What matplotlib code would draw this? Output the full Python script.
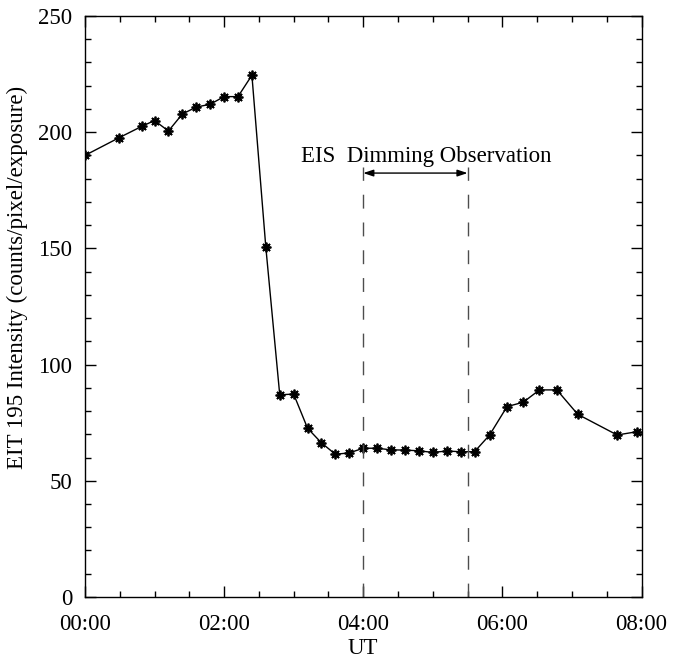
import matplotlib.pyplot as plt
from matplotlib.ticker import MultipleLocator, FuncFormatter

# EIT 195 light curve (times in UT, intensity in counts/pixel/exposure)
times = ["00:00", "00:29", "00:49", "01:00", "01:12", "01:24", "01:36", "01:48",
         "02:00", "02:12", "02:24", "02:36", "02:48", "03:00", "03:12", "03:24",
         "03:36", "03:48", "04:00", "04:12", "04:24", "04:36", "04:48", "05:00",
         "05:12", "05:24", "05:36", "05:49", "06:04", "06:18", "06:32", "06:47",
         "07:05", "07:39", "07:56"]
intensity = [190.0, 197.5, 202.5, 205.0, 200.5, 207.8, 210.8, 212.0,
             215.3, 215.3, 224.5, 150.5, 87.0, 87.3, 72.6, 66.3,
             61.4, 62.0, 64.0, 64.0, 63.3, 63.2, 62.9, 62.2,
             62.8, 62.5, 62.5, 69.7, 81.9, 83.8, 89.1, 89.1,
             78.6, 69.7, 71.1]

eis_start = "04:00"
eis_end = "05:30"
eis_label = "EIS  Dimming Observation"


def to_hours(t):
    h, m = t.split(":")
    return int(h) + int(m) / 60.0


hours = [to_hours(t) for t in times]
t0 = to_hours(eis_start)
t1 = to_hours(eis_end)

plt.rcParams['font.family'] = ['Liberation Serif', 'DejaVu Serif']
fs = 16.5

fig = plt.figure(figsize=(6.85, 6.6), dpi=100)
ax = fig.add_axes([0.124, 0.0955, 0.8125, 0.8803])

ax.plot(hours, intensity, color='black', lw=1.0, marker=(8, 2, 0),
        markersize=7, markeredgewidth=1.3, markerfacecolor='black')

# observation window
ax.plot([t0, t0], [0, 185], color='0.3', lw=1.0, dashes=(10, 10))
ax.plot([t1, t1], [0, 185], color='0.3', lw=1.0, dashes=(10, 10))
ax.annotate("", xy=(t0, 182.4), xytext=(t1, 182.4),
            arrowprops=dict(arrowstyle='<|-|>,head_length=0.6,head_width=0.2',
                            color='black', lw=1.0, shrinkA=0, shrinkB=0))
ax.text(4.90, 189.5, eis_label, ha='center', va='center', fontsize=fs)

ax.set_xlim(0, 8)
ax.set_ylim(0, 250)
ax.xaxis.set_major_locator(MultipleLocator(2))
ax.xaxis.set_minor_locator(MultipleLocator(0.5))
ax.xaxis.set_major_formatter(FuncFormatter(lambda v, p: "%02d:00" % int(round(v))))
ax.yaxis.set_major_locator(MultipleLocator(50))
ax.yaxis.set_minor_locator(MultipleLocator(10))

ax.tick_params(which='both', direction='in', top=True, right=True,
               labelsize=fs, width=1.0)
ax.tick_params(which='major', length=8)
ax.tick_params(which='minor', length=4.3)
ax.tick_params(axis='x', pad=12.5)
ax.tick_params(axis='y', pad=9)

ax.set_xlabel("UT", fontsize=fs, labelpad=2)
ax.set_ylabel("EIT 195 Intensity (counts/pixel/exposure)", fontsize=fs)
ax.yaxis.set_label_coords(-0.1015, 0.55)

for s in ax.spines.values():
    s.set_linewidth(1.0)

fig.savefig("out.png", dpi=100)
